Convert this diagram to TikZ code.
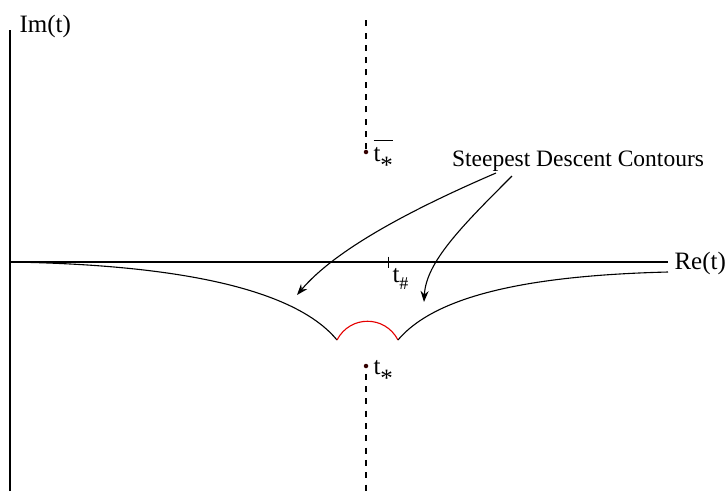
\documentclass[tikz,border=0pt]{standalone}
\usepackage{fontspec}
\setmainfont{Liberation Serif}
\usetikzlibrary{arrows.meta,positioning}

\newcommand{\tsym}[1]{t\raisebox{-12pt}{\fontsize{25}{25}\selectfont #1}}

\begin{document}
\begin{tikzpicture}[
    x=1pt, y=-1pt,
    line width=1.1pt,
    axis/.style={line width=1.3pt},
    cut/.style={line width=1.1pt, dash pattern=on 6pt off 6.3pt},
    contour/.style={line width=1.1pt},
    saddle/.style={line width=1.1pt, red!90!black},
    pointer/.style={-{Stealth[length=11pt,width=8pt]}, line width=1.1pt},
    dot/.style={circle, fill=black!80!red, inner sep=0pt, minimum size=4.5pt},
    lbl/.style={font=\fontsize{25}{27}\selectfont, inner sep=0pt},
    tlbl/.style={font=\fontsize{25}{27}\selectfont, inner sep=0pt, anchor=base west}
]
\useasboundingbox (0,0) rectangle (726,491);

% axes
\coordinate (o) at (10,262);
\coordinate (ytop) at (10,30);
\coordinate (ybot) at (10,491);
\coordinate (xend) at (668,262);
\draw[axis] (ybot) -- (ytop);
\draw[axis] (o) -- (xend);
\node[lbl, anchor=base west] (im) at (19,32) {Im(t)};
\node[lbl, anchor=west] (re) at (674,263) {Re(t)};

% saddle point on the real axis
\coordinate (thash) at (388,262);
\draw[line width=1pt] ([yshift=5.5pt]thash) -- ([yshift=-5.5pt]thash);
\node[tlbl] (thashlbl) at (392,282) {t\raisebox{-7pt}{\fontsize{18}{18}\selectfont\#}};

% singular points and branch cuts
\node[dot] (tbar) at (366,152) {};
\node[dot] (tstar) at (366,366) {};
\coordinate (cuttop) at (366,18);
\coordinate (cutbot) at (366,491);
\draw[cut] (tbar) -- (cuttop);
\draw[cut] ([yshift=-5pt]tstar.south) -- (cutbot);
\node[tlbl] (tbarlbl) at (373,161) {\makebox[0pt][l]{\raisebox{20pt}{\rule{19pt}{1.3pt}}}\tsym{*}};
\node[tlbl] (tstarlbl) at (373,374) {\tsym{*}};

% steepest descent contours
\coordinate (cuspl) at (337,340);
\coordinate (cuspr) at (398,340);
\coordinate (farr) at (668,272);
\draw[contour] (o) .. controls (200,265) and (300,295) .. (cuspl);
\draw[saddle] (cuspl) .. controls (350,315) and (385,315) .. (cuspr);
\draw[contour] (cuspr) .. controls (440,290) and (550,275) .. (farr);

% annotation
\node[font=\fontsize{23.5}{25}\selectfont, inner sep=0pt, anchor=base] (sdc) at (578,166) {Steepest Descent Contours};
\coordinate (srcl) at (496,173);
\coordinate (srcr) at (512,176);
\coordinate (tipl) at (297,295);
\coordinate (tipr) at (424,302);
\draw[pointer] (srcl) .. controls (410,210) and (335,250) .. (tipl);
\draw[pointer] (srcr) .. controls (462,226) and (426,262) .. (tipr);
\end{tikzpicture}
\end{document}
